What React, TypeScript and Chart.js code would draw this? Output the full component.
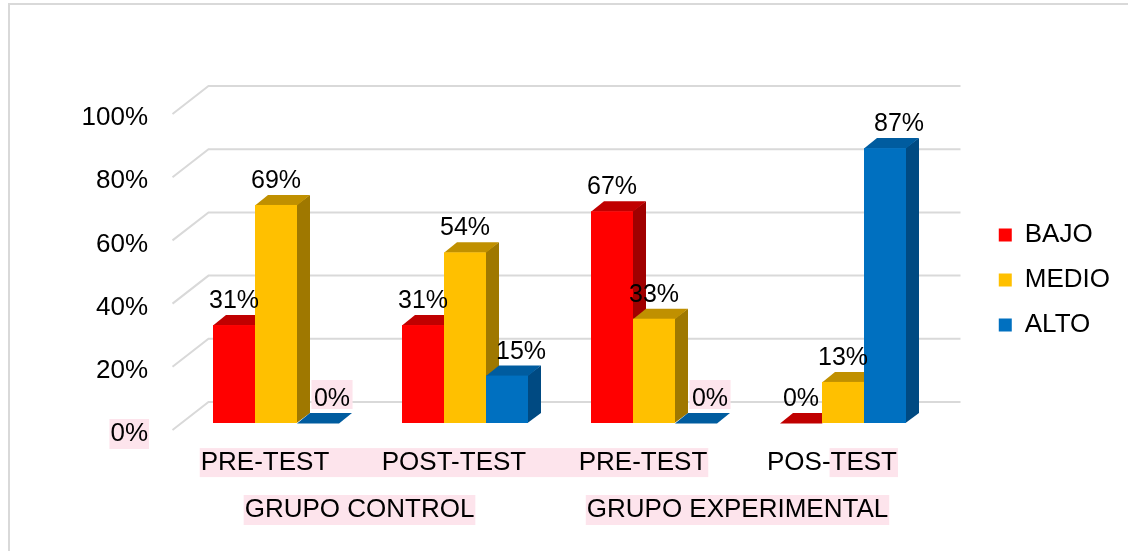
import React, { useEffect, useRef } from 'react';
import { Chart, registerables } from 'chart.js';

Chart.register(...registerables);

// ---- data ----
const categories = ['PRE-TEST', 'POST-TEST', 'PRE-TEST', 'POS-TEST'];
const groups = ['GRUPO CONTROL', 'GRUPO EXPERIMENTAL'];
const seriesNames = ['BAJO', 'MEDIO', 'ALTO'];
const bajo = [31, 31, 67, 0];
const medio = [69, 54, 33, 13];
const alto = [0, 15, 0, 87];
const yMin = 0;
const yMax = 100;
const yStep = 20;

// ---- style ----
const FONT = '"Liberation Sans", Arial, Helvetica, sans-serif';
const frontColors = ['#ff0000', '#ffc000', '#0070c0'];
const topColors = ['#c00000', '#c09000', '#005c9f'];
const sideColors = ['#a00000', '#9f7800', '#004a82'];
const PINK = '#fde4ec';
const GRID = '#d9d9d9';
const DX = 13;
const DY = -10;
const WALL_X = 27;
const WALL_Y = -21;
const WALL_RIGHT = 23;
const FRONT_X = -9;
const FRONT_Y = 7;
const labelShiftX = [0, 0, 14];
const pinkDataLabels = [[2, 0], [2, 2]];
const CHART_RIGHT = 937.5;
const PAD_RIGHT = 8;
const PAD_TOP = 33;
const CHART_TOP = 107;

const threeD = {
  id: 'threeD',
  beforeDraw(chart: any) {
    const { ctx, chartArea: a, scales } = chart;
    ctx.save();
    // outer frame
    ctx.fillStyle = GRID;
    ctx.fillRect(8, 3, chart.width - 8, 2);
    ctx.fillRect(8, 3, 2, chart.height - 3);
    // 3D gridlines (floor/back wall)
    ctx.strokeStyle = GRID;
    ctx.lineWidth = 2;
    const ys = scales.y;
    for (const t of ys.ticks) {
      const y = ys.getPixelForValue(t.value);
      ctx.beginPath();
      ctx.moveTo(a.left + FRONT_X, y + FRONT_Y);
      ctx.lineTo(a.left + WALL_X, y + WALL_Y);
      ctx.lineTo(a.right + WALL_RIGHT, y + WALL_Y);
      ctx.stroke();
    }
    // pink highlight marks behind some texts
    ctx.fillStyle = PINK;
    ctx.font = `26px ${FONT}`;
    const w = (s: string) => ctx.measureText(s).width;
    const xs = scales.x;
    const cy = xs.top + xs.options.ticks.padding + (26 * 1.2) / 2;
    const lx = (i: number) => xs.getPixelForTick(i) + xs.options.ticks.labelOffset;
    const l0 = lx(0) - w(categories[0]) / 2 - 1;
    const r2 = lx(2) + w(categories[2]) / 2 + 1;
    ctx.fillRect(l0, cy - 14.5, r2 - l0, 29);
    const r3 = lx(3) + w(categories[3]) / 2 + 1;
    const tw = w('TEST') + 2;
    ctx.fillRect(r3 - tw, cy - 14.5, tw, 29);
    const gs = scales.x2;
    const gcy = gs.top + gs.options.ticks.padding + (26 * 1.2) / 2;
    for (let i = 0; i < groups.length; i++) {
      const gx = gs.getPixelForTick(i) + gs.options.ticks.labelOffset;
      const gw = w(groups[i]) + 2;
      ctx.fillRect(gx - gw / 2, gcy - 15, gw, 30);
    }
    const y0 = ys.getPixelForValue(0) + ys.options.ticks.labelOffset;
    const yr = ys.right - ys.options.ticks.padding;
    const zw = w('0%') + 2;
    ctx.fillRect(yr - zw + 1, y0 - 15, zw, 30);
    ctx.restore();
  },
  beforeDatasetsDraw(chart: any) {
    const { ctx } = chart;
    ctx.save();
    const metas = chart.data.datasets.map((_: any, d: number) => chart.getDatasetMeta(d));
    const n = categories.length;
    for (let i = 0; i < n; i++) {
      for (let d = 0; d < metas.length; d++) {
        const meta = metas[d];
        if (!chart.isDatasetVisible(d)) continue;
        const el = meta.data[i];
        const { x, y, base, width } = el.getProps(['x', 'y', 'base', 'width'], true);
        const l = x - width / 2;
        const r = x + width / 2;
        const h = base - y;
        if (h > 0) {
          ctx.fillStyle = sideColors[d];
          ctx.beginPath();
          ctx.moveTo(r - 0.5, y);
          ctx.lineTo(r + DX, y + DY);
          ctx.lineTo(r + DX, base + DY);
          ctx.lineTo(r - 0.5, base);
          ctx.closePath();
          ctx.fill();
        }
        ctx.fillStyle = topColors[d];
        ctx.beginPath();
        ctx.moveTo(l, y + 0.5);
        ctx.lineTo(l + DX, y + DY);
        ctx.lineTo(r + DX, y + DY);
        ctx.lineTo(r, y + 0.5);
        ctx.closePath();
        ctx.fill();
        if (h > 0) {
          ctx.fillStyle = frontColors[d];
          ctx.fillRect(l, y, width, h);
        }
      }
    }
    // data labels
    ctx.font = `25px ${FONT}`;
    ctx.textAlign = 'center';
    ctx.textBaseline = 'alphabetic';
    for (let d = 0; d < metas.length; d++) {
      if (!chart.isDatasetVisible(d)) continue;
      const vals = chart.data.datasets[d].data;
      metas[d].data.forEach((el: any, i: number) => {
        const { x, y } = el.getProps(['x', 'y'], true);
        const txt = `${vals[i]}%`;
        const tx = x + labelShiftX[d];
        const ty = y - 17;
        if (pinkDataLabels.some(([pd, pi]) => pd === d && pi === i)) {
          const tw = ctx.measureText(txt).width;
          ctx.fillStyle = PINK;
          ctx.fillRect(tx - tw / 2 - 2.5, ty - 26, tw + 5, 29);
        }
        ctx.fillStyle = '#000';
        ctx.fillText(txt, tx, ty);
      });
    }
    ctx.restore();
    return false;
  },
};

export default function App() {
  const ref = useRef<HTMLCanvasElement>(null);
  useEffect(() => {
    const font = { size: 26, family: FONT };
    const chart = new Chart(ref.current as HTMLCanvasElement, {
      type: 'bar',
      data: {
        labels: categories,
        datasets: [
          { label: seriesNames[0], data: bajo, backgroundColor: frontColors[0] },
          { label: seriesNames[1], data: medio, backgroundColor: frontColors[1] },
          { label: seriesNames[2], data: alto, backgroundColor: frontColors[2] },
        ],
      },
      options: {
        animation: false,
        responsive: true,
        maintainAspectRatio: false,
        layout: { padding: { left: 20, right: PAD_RIGHT, top: PAD_TOP, bottom: 24 } },
        datasets: { bar: { categoryPercentage: 2 / 3, barPercentage: 1 } },
        plugins: {
          legend: {
            position: 'right',
            align: 'center',
            labels: { font, color: '#000', boxWidth: 13, boxHeight: 13, padding: 19 },
          },
          tooltip: { enabled: false },
        },
        scales: {
          x: {
            type: 'category',
            position: 'bottom',
            grid: { display: false, drawTicks: false },
            border: { display: false },
            ticks: { font, color: '#000', padding: 24, labelOffset: -11, autoSkip: false, maxRotation: 0 },
            afterFit: (s: any) => { s.height = 57; },
          },
          x2: {
            type: 'category',
            labels: groups,
            position: 'bottom',
            offset: true,
            grid: { display: false, drawTicks: false },
            border: { display: false },
            ticks: { font, color: '#000', padding: 14.4, labelOffset: -11, autoSkip: false, maxRotation: 0 },
            afterFit: (s: any) => { s.height = 47; },
          },
          xTop: {
            type: 'category',
            position: 'top',
            display: true,
            grid: { display: false, drawTicks: false },
            border: { display: false },
            ticks: { display: false },
            afterFit: (s: any) => { s.height = CHART_TOP - PAD_TOP; },
          },
          y: {
            min: yMin,
            max: yMax,
            grid: { display: false, drawTicks: false },
            border: { display: false },
            ticks: {
              stepSize: yStep,
              font,
              color: '#000',
              padding: 33.5,
              labelOffset: 11,
              callback: (v: any) => `${v}%`,
            },
            afterFit: (s: any) => { s.width = 161.5; },
          },
          yR: {
            position: 'right',
            display: true,
            grid: { display: false, drawTicks: false },
            border: { display: false },
            ticks: { display: false },
            afterFit: (s: any) => {
              const lw = s.chart.legend ? s.chart.legend.width : 140;
              s.width = Math.max(0, s.chart.width - PAD_RIGHT - lw - CHART_RIGHT);
            },
          },
        },
      } as any,
      plugins: [threeD],
    });
    return () => chart.destroy();
  }, []);
  return (
    <div style={{ position: 'absolute', left: 0, top: 0, width: 1128, height: 551, background: '#fff' }}>
      <canvas ref={ref} style={{ display: 'block' }} />
    </div>
  );
}
